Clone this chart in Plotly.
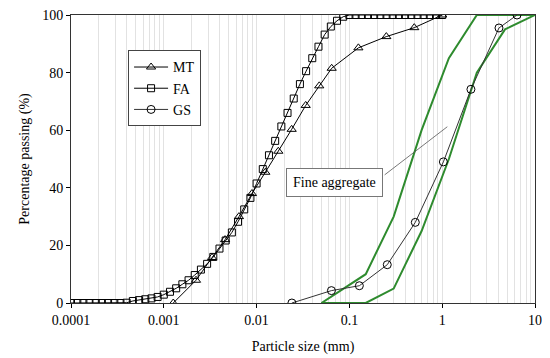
import plotly.graph_objects as go

# ---------------- data ----------------
# FA (fly ash) - laser diffraction, particle size in mm
fa_size = [0.0001, 0.000117, 0.000136, 0.000158, 0.000185, 0.000215, 0.000251, 0.000293,
           0.000341, 0.000398, 0.000464, 0.000541, 0.000631, 0.000736, 0.000858, 0.001,
           0.001166, 0.001359, 0.001585, 0.001848, 0.002154, 0.002512, 0.002929, 0.003415,
           0.003981, 0.004642, 0.005412, 0.00631, 0.007356, 0.008577, 0.01, 0.01166,
           0.01359, 0.01585, 0.01848, 0.02154, 0.02512, 0.02929, 0.03415, 0.03981,
           0.04642, 0.05412, 0.0631, 0.07356, 0.08577, 0.1, 0.1166, 0.1359, 0.1585,
           0.1848, 0.2154, 0.2512, 0.2929, 0.3415, 0.3981, 0.4642, 0.5412, 0.631,
           0.7356, 0.8577, 1.0]
fa_pass = [0, 0, 0, 0, 0, 0, 0, 0, 0, 0.1, 0.7, 1.0, 1.3, 1.6, 2.1, 2.9,
           3.9, 5.1, 6.5, 7.9, 9.7, 11.6, 13.6, 16.0, 18.9, 21.7, 24.5, 28.2, 32.5, 36.5,
           41.5, 46.5, 51.3, 56.3, 61.3, 66.0, 71.0, 76.0, 80.5, 85.0, 89.0, 93.2, 96.0,
           98.0, 99.4, 100, 100, 100, 100, 100, 100, 100, 100, 100, 100, 100, 100, 100,
           100, 100, 100]

# MT - hydrometer + sieve
mt_size = [0.001265, 0.002223, 0.003311, 0.004571, 0.006457, 0.008913, 0.01242,
           0.01714, 0.02388, 0.03381, 0.04732, 0.06442, 0.125, 0.25, 0.5, 1.0]
mt_pass = [0, 7.9, 15.8, 22.0, 30.0, 38.0, 45.4, 52.7, 60.3, 68.6, 75.4, 81.5,
           88.6, 92.5, 95.6, 100]

# GS - sieve
gs_size = [0.024, 0.064, 0.128, 0.256, 0.513, 1.03, 2.04, 4.09, 6.4]
gs_pass = [0, 4.3, 6.0, 13.3, 28.0, 49.0, 74.2, 95.5, 100]

# Fine aggregate grading envelope
upper_size = [0.05, 0.15, 0.3, 0.6, 1.18, 2.36, 4.75, 10]
upper_pass = [0, 10, 30, 60, 85, 100, 100, 100]
lower_size = [0.05, 0.15, 0.3, 0.6, 1.18, 2.36, 4.75, 10]
lower_pass = [0, 0, 5, 25, 50, 80, 95, 100]

# leader line of the "Fine aggregate" label
leader_size = [1.135, 0.24]
leader_pass = [61.2, 44.5]

x_ticks = [0.0001, 0.001, 0.01, 0.1, 1, 10]
x_ticklabels = ["0.0001", "0.001", "0.01", "0.1", "1", "10"]
y_ticks = [0, 20, 40, 60, 80, 100]

FONT = "Liberation Serif, Times New Roman, serif"
GREEN = "#2e8b2e"
GRID = "#e2e2e2"

fig = go.Figure()

fig.add_trace(go.Scatter(x=upper_size, y=upper_pass, mode="lines",
                         line=dict(color=GREEN, width=2), showlegend=False, hoverinfo="skip"))
fig.add_trace(go.Scatter(x=lower_size, y=lower_pass, mode="lines",
                         line=dict(color=GREEN, width=2), showlegend=False, hoverinfo="skip"))
fig.add_trace(go.Scatter(x=leader_size, y=leader_pass, mode="lines",
                         line=dict(color="#555555", width=0.8), showlegend=False, hoverinfo="skip"))

fig.add_trace(go.Scatter(x=mt_size, y=mt_pass, mode="lines+markers", name="MT",
                         line=dict(color="black", width=1),
                         marker=dict(symbol="triangle-up-open", size=8, color="black",
                                     line=dict(width=1))))
fig.add_trace(go.Scatter(x=fa_size, y=fa_pass, mode="lines+markers", name="FA",
                         line=dict(color="black", width=1),
                         marker=dict(symbol="square-open", size=7, color="black",
                                     line=dict(width=1))))
fig.add_trace(go.Scatter(x=gs_size, y=gs_pass, mode="lines+markers", name="GS",
                         line=dict(color="#333333", width=1),
                         marker=dict(symbol="circle-open", size=8, color="black",
                                     line=dict(width=1))))

minor_vals = [m * 10 ** e for e in range(-4, 1) for m in range(2, 10)]

fig.update_xaxes(type="log", range=[-4, 1], automargin=False,
                 tickvals=x_ticks, ticktext=x_ticklabels, ticklabeloverflow="allow",
                 ticks="outside", ticklen=4, tickcolor="black",
                 showgrid=True, gridcolor=GRID, gridwidth=1,
                 minor=dict(tickvals=minor_vals, showgrid=True, gridcolor=GRID,
                            gridwidth=1, ticks=""),
                 showline=True, linecolor="#333333", linewidth=1, mirror=True,
                 zeroline=False,
                 title=dict(text="Particle size (mm)", font=dict(size=14, family=FONT, color="black"),
                            standoff=14),
                 tickfont=dict(size=14, family=FONT, color="black"))
fig.update_yaxes(range=[0, 100], tickvals=y_ticks, automargin=False,
                 ticklabeloverflow="allow",
                 ticks="outside", ticklen=4, tickcolor="black",
                 showgrid=False, zeroline=False,
                 showline=True, linecolor="#333333", linewidth=1, mirror=True,
                 title=dict(text="Percentage passing (%)", font=dict(size=14, family=FONT, color="black"),
                            standoff=9),
                 tickfont=dict(size=14, family=FONT, color="black"))

fig.add_annotation(x=-1.166, y=41.7, xref="x", yref="y", text="Fine aggregate",
                   showarrow=False, font=dict(size=14, family=FONT, color="black"),
                   bordercolor="#777777", borderwidth=1, borderpad=6, bgcolor="white")

# the page body has an 8 px margin, so the figure is 8 px smaller each way
fig.update_layout(width=542, height=350,
                  margin=dict(l=63, r=15, t=7, b=55),
                  paper_bgcolor="white", plot_bgcolor="white",
                  font=dict(family=FONT, size=14, color="black"),
                  legend=dict(x=0.123, y=0.877, xanchor="left", yanchor="top",
                              bordercolor="#444444", borderwidth=1, bgcolor="white",
                              font=dict(size=14, family=FONT, color="black"),
                              tracegroupgap=0, itemwidth=34))

fig.write_html("out.html")
